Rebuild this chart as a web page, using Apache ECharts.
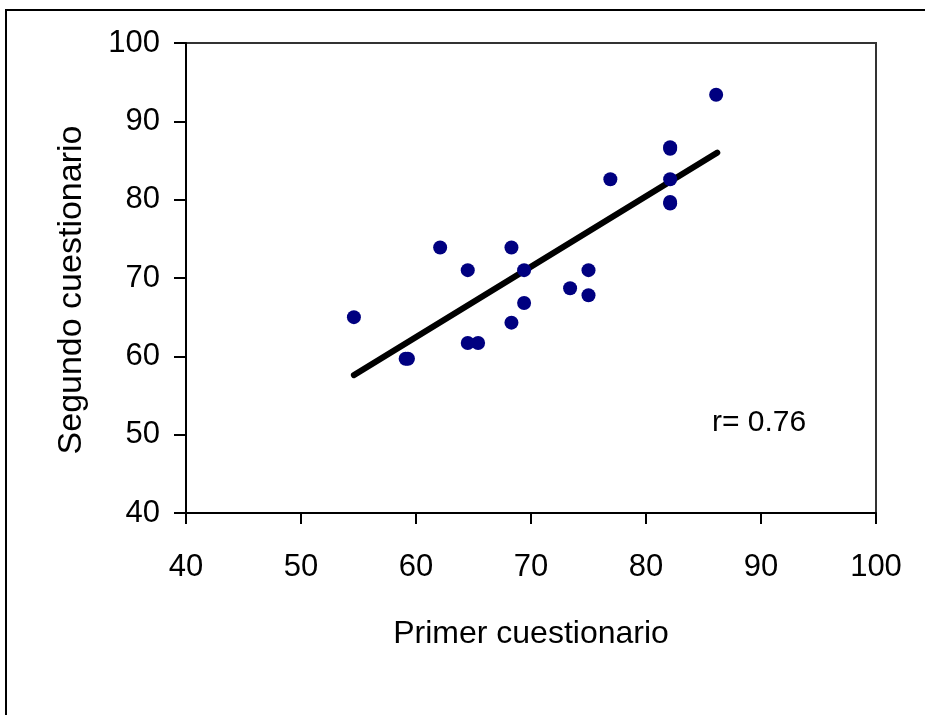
<!DOCTYPE html>
<html>
<head>
<meta charset="utf-8">
<script src="https://cdn.jsdelivr.net/npm/echarts@6/dist/echarts.min.js"></script>
<style>
html,body{margin:0;padding:0;background:#fff;}
#chart{width:925px;height:715px;}
</style>
</head>
<body>
<div id="chart"></div>
<script>
var xValues = [54.6, 59.1, 59.3, 62.1, 64.5, 64.5, 65.4, 68.3, 68.3, 69.4, 69.4, 73.4, 75.0, 75.0, 76.9, 82.1, 82.1, 82.1, 82.1, 82.1, 86.1];
var yValues = [65.0, 59.7, 59.7, 73.9, 71.0, 61.7, 61.7, 73.9, 64.3, 71.0, 66.8, 68.7, 71.0, 67.8, 82.6, 86.5, 86.7, 82.6, 79.5, 79.7, 93.4];
var trendX = [54.6, 86.2];
var trendY = [57.6, 86.0];
var xTitle = 'Primer cuestionario';
var yTitle = 'Segundo cuestionario';
var rText = 'r= 0.76';

var points = xValues.map(function (x, i) { return [x, yValues[i]]; });
var trend = trendX.map(function (x, i) { return [x, trendY[i]]; });

var font = '"Liberation Sans", Arial, sans-serif';
var chart = echarts.init(document.getElementById('chart'), null, {renderer: 'canvas'});
chart.setOption({
  animation: false,
  backgroundColor: '#fff',
  grid: {left: 186, top: 43, right: 49, bottom: 202, show: true, borderColor: '#333', borderWidth: 2, backgroundColor: 'transparent'},
  xAxis: {
    type: 'value', min: 40, max: 100, interval: 10,
    name: xTitle, nameLocation: 'middle', nameGap: 105,
    nameTextStyle: {fontFamily: font, fontSize: 32, color: '#000'},
    axisLine: {show: true, lineStyle: {color: '#000', width: 2}},
    axisTick: {show: true, inside: false, length: 11, lineStyle: {color: '#000', width: 2}},
    axisLabel: {fontFamily: font, fontSize: 31, color: '#000', margin: 39},
    splitLine: {show: false}
  },
  yAxis: {
    type: 'value', min: 40, max: 100, interval: 10,
    axisLine: {show: true, lineStyle: {color: '#000', width: 2}},
    axisTick: {show: true, inside: false, length: 12, lineStyle: {color: '#000', width: 2}},
    axisLabel: {fontFamily: font, fontSize: 31, color: '#000', margin: 26},
    splitLine: {show: false}
  },
  graphic: [
    {type: 'rect', shape: {x: 6, y: 10, width: 1200, height: 1200}, style: {fill: 'none', stroke: '#000', lineWidth: 2}, silent: true, z: 0},
    {type: 'text', x: 72, y: 290, rotation: Math.PI / 2, style: {text: yTitle, fontFamily: font, fontSize: 34, fill: '#000', textAlign: 'center', textVerticalAlign: 'middle'}, z: 10},
    {type: 'text', left: 712, top: 408, style: {text: rText, fontFamily: font, fontSize: 30, fill: '#000'}, z: 10}
  ],
  series: [
    {
      type: 'line', data: trend, symbol: 'none', z: 3,
      lineStyle: {color: '#000', width: 6, cap: 'round'}
    },
    {
      type: 'scatter', data: points, symbol: 'circle', symbolSize: 14, z: 4,
      itemStyle: {color: '#000080', opacity: 1}
    }
  ]
});
</script>
</body>
</html>
